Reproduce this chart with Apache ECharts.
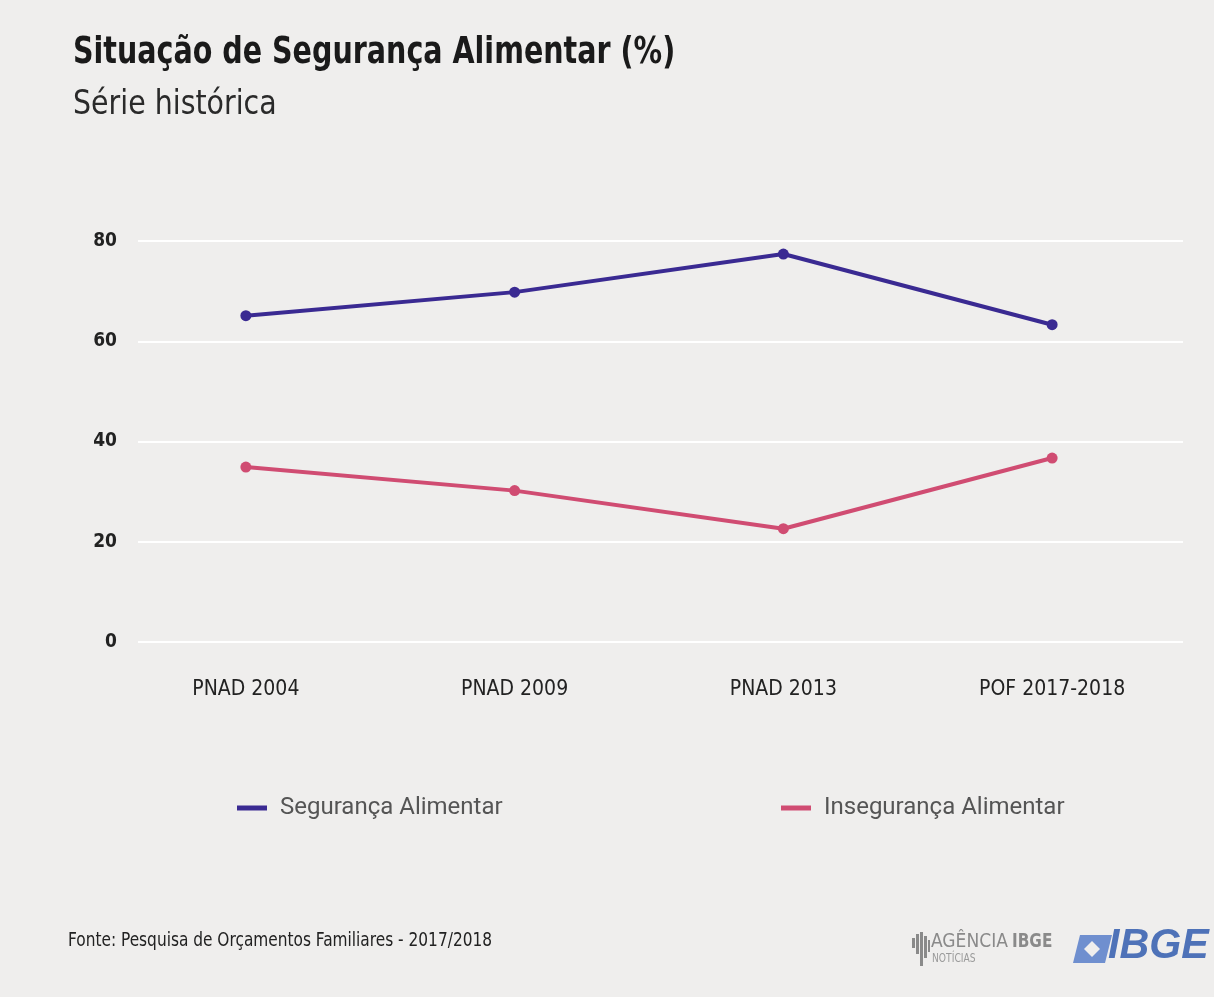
<!DOCTYPE html>
<html>
<head>
<meta charset="utf-8">
<script src="https://cdn.jsdelivr.net/npm/echarts@6/dist/echarts.min.js"></script>
<style>
html,body{margin:0;padding:0;background:#efeeed;}
#chart{width:1214px;height:997px;}
</style>
</head>
<body>
<div id="chart"></div>
<script>
var categories = ['PNAD 2004', 'PNAD 2009', 'PNAD 2013', 'POF 2017-2018'];
var seguranca = [65.1, 69.8, 77.4, 63.3];
var inseguranca = [34.9, 30.2, 22.6, 36.7];
var yTicks = [0, 20, 40, 60, 80];

var narrow = "'Liberation Sans Narrow', 'DejaVu Sans Condensed', 'Liberation Sans', sans-serif";
var chart = echarts.init(document.getElementById('chart'));
var option = {
  backgroundColor: '#efeeed',
  animation: false,
  legend: [
    { data: ['Segurança Alimentar'], left: 232, top: 791, icon: 'rect', itemWidth: 30, itemHeight: 5,
      textStyle: { fontFamily: 'Roboto, sans-serif', fontSize: 24, color: '#555', padding: [0,0,0,8] } },
    { data: ['Insegurança Alimentar'], left: 776, top: 791, icon: 'rect', itemWidth: 30, itemHeight: 5,
      textStyle: { fontFamily: 'Roboto, sans-serif', fontSize: 24, color: '#555', padding: [0,0,0,8] } }
  ],
  grid: [
    { left: 111.5, right: 27.5, top: 241, bottom: 355 },
    { left: 138, right: 31, top: 241, bottom: 355 }
  ],
  xAxis: [
    { type: 'category', gridIndex: 0, data: categories, boundaryGap: true,
      axisLine: { show: false }, axisTick: { show: false }, splitLine: { show: false },
      axisLabel: { margin: 37, fontFamily: narrow, fontSize: 21, color: '#222', fontWeight: 'normal' } },
    { type: 'category', gridIndex: 1, data: categories, show: false }
  ],
  yAxis: [
    { type: 'value', gridIndex: 0, min: 0, max: 80, interval: 20, show: false, splitLine: { show: false } },
    { type: 'value', gridIndex: 1, min: yTicks[0], max: yTicks[yTicks.length - 1], interval: 20,
      axisLine: { show: false }, axisTick: { show: false },
      axisLabel: { margin: 21, fontFamily: narrow, fontWeight: 'bold', fontSize: 19, color: '#222' },
      splitLine: { lineStyle: { color: '#ffffff', width: 2 } } }
  ],
  series: [
    { name: 'Segurança Alimentar', type: 'line', xAxisIndex: 0, yAxisIndex: 0, data: seguranca,
      symbol: 'circle', symbolSize: 11, color: '#3a2a92',
      lineStyle: { width: 4, color: '#3a2a92' }, itemStyle: { color: '#3a2a92' }, z: 5 },
    { name: 'Insegurança Alimentar', type: 'line', xAxisIndex: 0, yAxisIndex: 0, data: inseguranca,
      symbol: 'circle', symbolSize: 11, color: '#d04c72',
      lineStyle: { width: 4, color: '#d04c72' }, itemStyle: { color: '#d04c72' }, z: 5 }
  ],
  graphic: [
    { type: 'text', x: 73, y: 34, scaleX: 0.835,
      style: { text: 'Situação de Segurança Alimentar (%)', fontFamily: narrow, fontWeight: 'bold', fontSize: 38, fill: '#1a1a1a' } },
    { type: 'text', x: 73, y: 88, scaleX: 0.93,
      style: { text: 'Série histórica', fontFamily: narrow, fontSize: 34, fill: '#2a2a2a' } },
    { type: 'text', x: 68, y: 932, scaleX: 0.9,
      style: { text: 'Fonte: Pesquisa de Orçamentos Familiares - 2017/2018', fontFamily: narrow, fontSize: 19, fill: '#222' } },
    { type: 'group', x: 912, y: 932, children: [
      { type: 'rect', shape: { x: 0, y: 6, width: 3, height: 10 }, style: { fill: '#8a8a8a' } },
      { type: 'rect', shape: { x: 4, y: 2, width: 3, height: 20 }, style: { fill: '#8a8a8a' } },
      { type: 'rect', shape: { x: 8, y: 0, width: 3, height: 34 }, style: { fill: '#8a8a8a' } },
      { type: 'rect', shape: { x: 12, y: 4, width: 3, height: 22 }, style: { fill: '#8a8a8a' } },
      { type: 'rect', shape: { x: 16, y: 8, width: 2, height: 12 }, style: { fill: '#8a8a8a' } }
    ]},
    { type: 'text', x: 931, y: 932, scaleX: 0.95,
      style: { text: 'AGÊNCIA', fontFamily: narrow, fontSize: 20, fill: '#8a8a8a' } },
    { type: 'text', x: 1012, y: 932, scaleX: 0.85,
      style: { text: 'IBGE', fontFamily: narrow, fontWeight: 'bold', fontSize: 20, fill: '#8a8a8a' } },
    { type: 'text', x: 932, y: 953, scaleX: 0.85,
      style: { text: 'NOTÍCIAS', fontFamily: narrow, fontSize: 12, fill: '#9a9a9a' } },
    { type: 'polygon', shape: { points: [[1080, 935], [1112, 935], [1105, 963], [1073, 963]] },
      style: { fill: '#6f8fcf' } },
    { type: 'polygon', shape: { points: [[1092, 941], [1100, 949], [1092, 957], [1084, 949]] },
      style: { fill: '#efeeed' } },
    { type: 'text', x: 1108, y: 925, scaleX: 0.98,
      style: { text: 'IBGE', fontFamily: "'Liberation Sans', sans-serif", fontStyle: 'italic', fontWeight: 'bold', fontSize: 42, fill: '#4e72b8' } }
  ]
};
chart.setOption(option);
</script>
</body>
</html>
